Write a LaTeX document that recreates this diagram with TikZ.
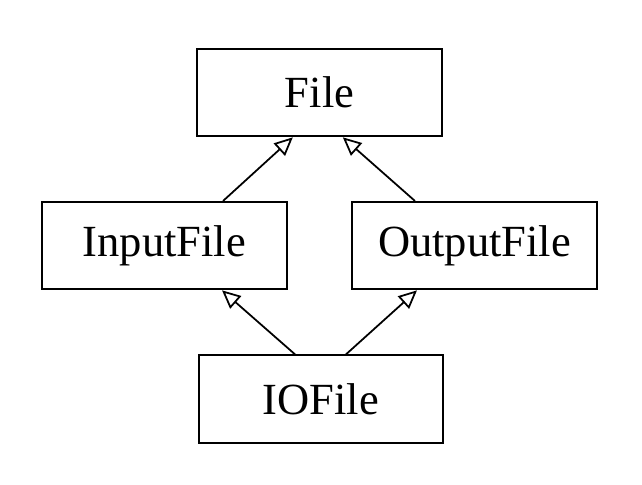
\documentclass[tikz,border=0pt]{standalone}
\usepackage{fontspec}
\setmainfont{Liberation Serif}
\usetikzlibrary{arrows.meta}

\begin{document}
\begin{tikzpicture}[box/.style={rectangle, draw=black, line width=1.7pt, minimum width=7.33cm, minimum height=2.62cm, font=\fontsize{38}{45}\selectfont},
        inherit/.style={-{Triangle[open, length=0.55cm, width=0.5cm, line width=1.5pt]}, line width=1.5pt}]
        \useasboundingbox (0,0) rectangle (19.26,-14.52);
        \node [box] (file) at (9.585,-2.78) {File};
        \node [box] (input) at (4.935,-7.37) {InputFile};
        \node [box] (output) at (14.235,-7.37) {OutputFile};
        \node [box] (iofile) at (9.63,-11.97) {IOFile};
        \draw [inherit] ([xshift=1.755cm]input.north) -- ([xshift=-0.8cm]file.south);
        \draw [inherit] ([xshift=-1.785cm]output.north) -- ([xshift=0.7cm]file.south);
        \draw [inherit] ([xshift=-0.78cm]iofile.north) -- ([xshift=1.725cm]input.south);
        \draw [inherit] ([xshift=0.75cm]iofile.north) -- ([xshift=-1.725cm]output.south);
        \end{tikzpicture}
\end{document}
